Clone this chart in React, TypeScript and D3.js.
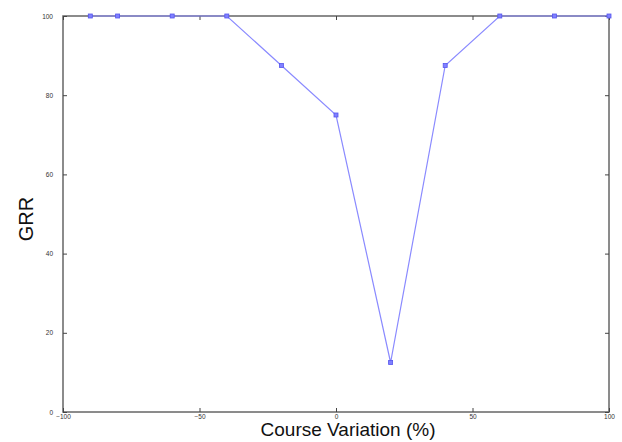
import * as d3 from 'd3';
import React, { useRef, useEffect } from 'react';

// course variation (%) vs GRR
const variation = [-90, -80, -60, -40, -20, 0, 20, 40, 60, 80, 100];
const grr = [100, 100, 100, 100, 87.5, 75, 12.5, 87.5, 100, 100, 100];
const xTicks = [-100, -50, 0, 50, 100];
const yTicks = [0, 20, 40, 60, 80, 100];

function App() {
  const ref = useRef<SVGSVGElement>(null);
  const width = 622;
  const height = 442;
  const margin = { top: 16, right: 13, bottom: 30, left: 63 };

  useEffect(() => {
    draw();
  }, []);

  const draw = () => {
    const svg = d3.select(ref.current);
    svg.selectAll('*').remove();

    const w = width - margin.left - margin.right;
    const h = height - margin.top - margin.bottom;

    const xScale = d3.scaleLinear().domain([-100, 100]).range([0, w]);
    const yScale = d3.scaleLinear().domain([0, 100]).range([h, 0]);

    const chart = svg.append('g')
      .attr('transform', `translate(${margin.left}, ${margin.top})`);

    // frame
    chart.append('rect')
      .attr('width', w)
      .attr('height', h)
      .attr('fill', 'none')
      .attr('stroke', '#666')
      .attr('stroke-width', 1.5);

    const tickStyle = (g: any) => {
      g.select('.domain').remove();
      g.selectAll('.tick line').attr('stroke', '#444');
      g.selectAll('.tick text')
        .attr('fill', '#333')
        .style('font-family', 'Liberation Sans, Arial, sans-serif')
        .style('font-size', '6.5px');
    };

    chart.append('g')
      .attr('transform', `translate(0, ${h})`)
      .call(d3.axisBottom(xScale).tickValues(xTicks).tickSizeInner(-4).tickSizeOuter(0).tickPadding(2))
      .call(tickStyle);
    chart.append('g')
      .call(d3.axisTop(xScale).tickValues(xTicks).tickSizeInner(-4).tickSizeOuter(0).tickFormat(() => ''))
      .call(tickStyle);
    chart.append('g')
      .call(d3.axisLeft(yScale).tickValues(yTicks).tickSizeInner(-4).tickSizeOuter(0).tickPadding(10))
      .call(tickStyle);
    chart.append('g')
      .attr('transform', `translate(${w}, 0)`)
      .call(d3.axisRight(yScale).tickValues(yTicks).tickSizeInner(-4).tickSizeOuter(0).tickFormat(() => ''))
      .call(tickStyle);

    const pts = variation.map((v, i) => ({ x: v, y: grr[i] }));

    const line = d3.line<{ x: number; y: number }>()
      .x((d) => xScale(d.x))
      .y((d) => yScale(d.y));

    chart.append('path')
      .datum(pts)
      .attr('d', line)
      .attr('fill', 'none')
      .attr('stroke', '#8a8aff')
      .attr('stroke-width', 1.2);

    chart.selectAll('.pt')
      .data(pts)
      .enter()
      .append('rect')
      .attr('class', 'pt')
      .attr('x', (d) => xScale(d.x) - 2)
      .attr('y', (d) => yScale(d.y) - 2)
      .attr('width', 4)
      .attr('height', 4)
      .attr('fill', '#8080ff')
      .attr('stroke', '#5555ee')
      .attr('stroke-width', 0.8);

    svg.append('text')
      .attr('x', 348)
      .attr('y', 436)
      .attr('text-anchor', 'middle')
      .style('font-family', 'Liberation Sans, Arial, sans-serif')
      .style('font-size', '19px')
      .attr('fill', '#111')
      .text('Course Variation (%)');

    svg.append('text')
      .attr('transform', `translate(33, 219) rotate(-90)`)
      .attr('text-anchor', 'middle')
      .style('font-family', 'Liberation Sans, Arial, sans-serif')
      .style('font-size', '20px')
      .attr('fill', '#111')
      .text('GRR');
  };

  return (
    <div style={{ position: 'absolute', left: 0, top: 0 }}>
      <svg ref={ref} width={width} height={height} style={{ display: 'block', background: '#fff' }}>
      </svg>
    </div>
  );
}

export default App;
